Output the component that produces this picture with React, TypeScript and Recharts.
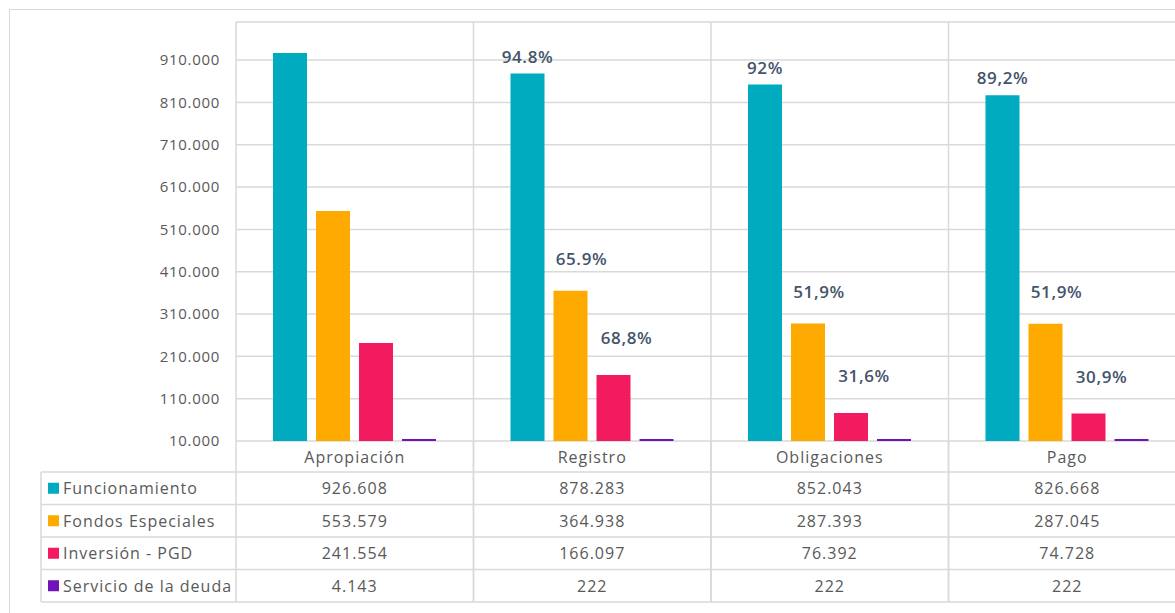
import React from 'react';
import { BarChart, Bar, XAxis, YAxis, CartesianGrid, LabelList } from 'recharts';

// ---------------------------------------------------------------------------
// Data
// ---------------------------------------------------------------------------

const categories = ['Apropiación', 'Registro', 'Obligaciones', 'Pago'];

const funcionamiento = [926608, 878283, 852043, 826668];
const fondosEspeciales = [553579, 364938, 287393, 287045];
const inversionPgd = [241554, 166097, 76392, 74728];
const servicioDeuda = [4143, 222, 222, 222];

const pctFuncionamiento = ['', '94.8%', '92%', '89,2%'];
const pctFondos = ['', '65.9%', '51,9%', '51,9%'];
const pctInversion = ['', '68,8%', '31,6%', '30,9%'];

const yTicks = [10000, 110000, 210000, 310000, 410000, 510000, 610000, 710000, 810000, 910000];

const series = [
  { key: 'funcionamiento', name: 'Funcionamiento', color: '#00abc0', values: funcionamiento },
  { key: 'fondos', name: 'Fondos Especiales', color: '#ffaa00', values: fondosEspeciales },
  { key: 'inversion', name: 'Inversión - PGD', color: '#f31b5f', values: inversionPgd },
  { key: 'deuda', name: 'Servicio de la deuda', color: '#7013b8', values: servicioDeuda },
];

const data = categories.map((cat, i) => ({
  cat,
  funcionamiento: funcionamiento[i],
  fondos: fondosEspeciales[i],
  inversion: inversionPgd[i],
  deuda: servicioDeuda[i],
  pctF: pctFuncionamiento[i],
  pctE: pctFondos[i],
  pctI: pctInversion[i],
}));

// ---------------------------------------------------------------------------
// Layout
// ---------------------------------------------------------------------------

const CHART_W = 1200;
const CHART_H = 640;
const MARGIN = { top: 22, right: 14, left: 0, bottom: 0 };
const Y_W = 236;
const X_H = 199;
const PLOT_W = CHART_W - MARGIN.left - MARGIN.right - Y_W;
const BAND = PLOT_W / categories.length;
const BASE_Y = CHART_H - MARGIN.bottom - X_H;
const HEAD_H = 31;
const ROW_H = 32.5;
const TABLE_LEFT = 41;

const GRID = '#d9d9d9';
const TEXT = '#595959';
const FONT = '"Open Sans", sans-serif';

const fmt = (n: number) => String(n).replace(/\B(?=(\d{3})+(?!\d))/g, '.');

// ---------------------------------------------------------------------------
// Data table drawn as the x-axis ticks
// ---------------------------------------------------------------------------

const TableColumn = (props: any) => {
  const { x, index, payload } = props;
  const left = x - BAND / 2;
  const right = x + BAND / 2;
  const rowsTop = BASE_Y + HEAD_H;
  const bottom = rowsTop + ROW_H * series.length;
  const i = index ?? categories.indexOf(payload.value);

  return (
    <g>
      <line x1={left} y1={BASE_Y} x2={left} y2={bottom} stroke={GRID} strokeWidth={1.5} />
      <line x1={right} y1={BASE_Y} x2={right} y2={bottom} stroke={GRID} strokeWidth={1.5} />
      <text
        x={x}
        y={BASE_Y + HEAD_H / 2 + 6}
        textAnchor="middle"
        fill={TEXT}
        fontSize={16}
        fontFamily={FONT}
        letterSpacing={1}
      >
        {payload.value}
      </text>
      {series.map((s, r) => (
        <g key={s.key}>
          <line x1={left} y1={rowsTop + r * ROW_H} x2={right} y2={rowsTop + r * ROW_H} stroke={GRID} strokeWidth={1.5} />
          <text
            x={x}
            y={rowsTop + r * ROW_H + ROW_H / 2 + 6}
            textAnchor="middle"
            fill={TEXT}
            fontSize={16}
            fontFamily={FONT}
            letterSpacing={1}
          >
            {fmt(s.values[i])}
          </text>
        </g>
      ))}
      <line x1={left} y1={bottom} x2={right} y2={bottom} stroke={GRID} strokeWidth={1.5} />

      {/* legend column, drawn once */}
      {i === 0 && (
        <g>
          <line x1={TABLE_LEFT} y1={rowsTop} x2={TABLE_LEFT} y2={bottom} stroke={GRID} strokeWidth={1.5} />
          {series.map((s, r) => (
            <g key={s.key}>
              <line x1={TABLE_LEFT} y1={rowsTop + r * ROW_H} x2={left} y2={rowsTop + r * ROW_H} stroke={GRID} strokeWidth={1.5} />
              <rect x={TABLE_LEFT + 7} y={rowsTop + r * ROW_H + ROW_H / 2 - 5.5} width={11} height={11} fill={s.color} />
              <text
                x={TABLE_LEFT + 22}
                y={rowsTop + r * ROW_H + ROW_H / 2 + 6}
                fill={TEXT}
                fontSize={16}
                fontFamily={FONT}
                letterSpacing={1}
              >
                {s.name}
              </text>
            </g>
          ))}
          <line x1={TABLE_LEFT} y1={bottom} x2={left} y2={bottom} stroke={GRID} strokeWidth={1.5} />
        </g>
      )}
    </g>
  );
};

// ---------------------------------------------------------------------------
// Percentage labels
// ---------------------------------------------------------------------------

const pctLabel = (dx: number, dy: number) => (p: any) => {
  if (!p.value) return null;
  const top = Math.min(p.y, p.y + p.height);
  return (
    <text
      x={p.x + p.width / 2 + dx}
      y={top + dy}
      textAnchor="middle"
      fill="#44546a"
      fontSize={17}
      fontWeight={600}
      fontFamily={FONT}
      letterSpacing={0.6}
    >
      {p.value}
    </text>
  );
};

// Values below the axis minimum: drawn as a thin strip on the baseline
const FlatBar = (p: any) => {
  const base = p.y + p.height;
  return <rect x={p.x} y={Math.min(base, p.y) - 2} width={p.width} height={2} fill={p.fill} />;
};

// ---------------------------------------------------------------------------
// Component
// ---------------------------------------------------------------------------

export default function App() {
  return (
    <div style={{ position: 'absolute', left: 0, top: 0, width: 1175, height: 613, overflow: 'hidden', background: '#fff' }}>
      <style>{'html,body{overflow:hidden}'}</style>
      <div
        style={{
          position: 'absolute',
          left: 9,
          top: 9,
          width: 1300,
          height: 700,
          border: `1.5px solid ${GRID}`,
        }}
      />
      <div style={{ position: 'absolute', left: 0, top: 0 }}>
        <BarChart width={CHART_W} height={CHART_H} data={data} margin={MARGIN} barGap={9}>
          <CartesianGrid
            stroke={GRID}
            strokeWidth={1.5}
            verticalCoordinatesGenerator={({ offset }: any) =>
              categories.map((_, i) => offset.left + i * (offset.width / categories.length))
            }
          />
          <XAxis
            dataKey="cat"
            height={X_H}
            interval={0}
            axisLine={false}
            tickLine={false}
            tick={(props: any) => <TableColumn {...props} />}
          />
          <YAxis
            width={Y_W}
            domain={[10000, 1000000]}
            allowDataOverflow
            ticks={yTicks}
            axisLine={false}
            tickLine={false}
            tickMargin={10}
            tickFormatter={fmt}
            tick={{ fill: TEXT, fontSize: 15, fontFamily: FONT, letterSpacing: 0.7 }}
          />
          <Bar dataKey="funcionamiento" fill="#00abc0" barSize={34} isAnimationActive={false}>
            <LabelList dataKey="pctF" content={pctLabel(0, -11)} />
          </Bar>
          <Bar dataKey="fondos" fill="#ffaa00" barSize={34} isAnimationActive={false}>
            <LabelList dataKey="pctE" content={pctLabel(11, -26)} />
          </Bar>
          <Bar dataKey="inversion" fill="#f31b5f" barSize={34} isAnimationActive={false}>
            <LabelList dataKey="pctI" content={pctLabel(13, -31)} />
          </Bar>
          <Bar dataKey="deuda" fill="#7013b8" barSize={34} isAnimationActive={false} shape={<FlatBar />} />
        </BarChart>
      </div>
    </div>
  );
}
